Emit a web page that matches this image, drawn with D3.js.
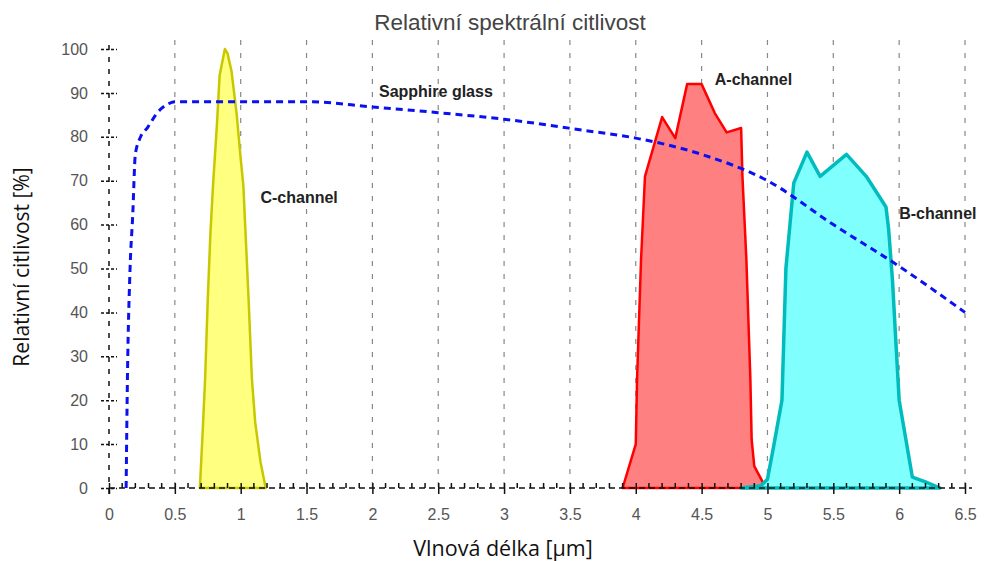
<!DOCTYPE html>
<html>
<head>
<meta charset="utf-8">
<script src="https://cdn.jsdelivr.net/npm/d3@7"></script>
<style>
  body { margin: 0; background: #fff; }
  text { font-family: "Liberation Sans", Arial, sans-serif; }
</style>
</head>
<body>
<div id="chart"></div>
<script>
// wavelength [um], relative sensitivity [%]
const sapphire = [[0.13,0],[0.14,25],[0.16,50],[0.18,62],[0.2,76],[0.24,80],[0.29,82],[0.37,85.6],[0.45,87.5],[0.5,88],[1.5,88],[2,86.8],[2.5,85.5],[3,84],[3.6,81.5],[4,79.7],[4.5,76],[5,70],[5.5,60],[6,50.5],[6.5,40]];
const cChannel = [[0.69,0],[0.71,12],[0.73,25],[0.75,43],[0.77,58],[0.79,69],[0.82,83],[0.84,94],[0.88,100],[0.9,99],[0.93,95],[0.97,85],[1.0,75],[1.02,69],[1.04,56],[1.06,43],[1.085,25],[1.11,15],[1.15,6],[1.19,0]];
const aChannel = [[3.9,0],[3.97,7],[4.0,10],[4.01,25],[4.04,52],[4.07,71],[4.2,84.5],[4.3,79.7],[4.39,92],[4.5,92],[4.6,85.4],[4.69,81],[4.8,82],[4.81,71],[4.84,52],[4.87,25],[4.88,11],[4.9,5],[4.97,1],[4.98,0]];
const bChannel = [[4.8,0],[4.95,0.5],[5.0,2],[5.05,10],[5.11,20],[5.14,50],[5.2,69.5],[5.3,76.5],[5.4,71],[5.6,76],[5.75,71],[5.9,64],[5.92,59],[5.95,47],[5.97,36],[6.0,20],[6.1,2.5],[6.2,1.4],[6.31,0]];
const xTicks = [0,0.5,1,1.5,2,2.5,3,3.5,4,4.5,5,5.5,6,6.5];
const yTicks = [0,10,20,30,40,50,60,70,80,90,100];
const seriesLabels = [["C-channel", 1.15, 65], ["Sapphire glass", 2.05, 89], ["A-channel", 4.6, 91.8], ["B-channel", 6.0, 61.3]];

const W = 986, H = 561;
const margin = {top: 49, right: 21, bottom: 73, left: 109};
const height = H - margin.top - margin.bottom;

const svg = d3.select("#chart").append("svg")
  .attr("width", W).attr("height", H);
const g = svg.append("g")
  .attr("transform", `translate(${margin.left},${margin.top})`);

const x = d3.scaleLinear().domain([0, 6.5]).range([0, 856]);
const y = d3.scaleLinear().domain([0, 100]).range([height, 0]);

// vertical grid
g.selectAll(".grid").data(xTicks.filter(d => d > 0)).enter().append("line")
  .attr("x1", d => x(d)).attr("x2", d => x(d))
  .attr("y1", -9).attr("y2", height + 7)
  .attr("stroke", "#888").attr("stroke-width", 1.2)
  .attr("stroke-dasharray", "5,8");

const area = d3.area().x(d => x(d[0])).y0(y(0)).y1(d => y(d[1]));

function band(data, fill, stroke, sw) {
  g.append("path").datum(data)
    .attr("d", area)
    .attr("fill", fill)
    .attr("stroke", stroke)
    .attr("stroke-width", sw)
    .attr("stroke-linejoin", "round");
}
band(cChannel, "#ffff80", "#c8c800", 2.5);
band(aChannel, "#ff8080", "#ff0000", 2.5);
band(bChannel, "#80ffff", "#00bcbc", 3.5);

// axes (dashed, like the original)
const xAxis = d3.axisBottom(x).tickValues(xTicks).tickSize(6).tickPadding(15)
  .tickFormat(d3.format("~g"));
const gx = g.append("g").attr("transform", `translate(0,${height})`).call(xAxis);
gx.select(".domain").remove();
gx.append("line").attr("x1", 0).attr("x2", 863)
  .attr("stroke", "#111").attr("stroke-width", 1.5).attr("stroke-dasharray", "6,4");
gx.selectAll(".tick line").attr("y1", -5).attr("stroke", "#111").attr("stroke-width", 1.5);
gx.selectAll(".tick text").attr("fill", "#555").style("font-size", "16px");

// minor ticks on x
const minor = d3.range(0, 66).map(i => i / 10).filter(d => Math.abs(d * 2 - Math.round(d * 2)) > 1e-6);
gx.selectAll(".minor").data(minor).enter().append("line")
  .attr("x1", d => x(d)).attr("x2", d => x(d))
  .attr("y1", 0).attr("y2", -5)
  .attr("stroke", "#111").attr("stroke-width", 1.5);

const yAxis = d3.axisLeft(y).tickValues(yTicks).tickSize(8).tickPadding(13);
const gy = g.append("g").call(yAxis);
gy.select(".domain").remove();
gy.append("line").attr("y1", -4).attr("y2", height + 7)
  .attr("stroke", "#111").attr("stroke-width", 1.5).attr("stroke-dasharray", "5,7");
gy.selectAll(".tick line").attr("x1", -8).attr("x2", 8)
  .attr("stroke", "#111").attr("stroke-width", 1.5).attr("stroke-dasharray", "3,2");
gy.selectAll(".tick text").attr("fill", "#555").style("font-size", "16px");

// sapphire glass transmission
const line = d3.line().x(d => x(d[0])).y(d => y(d[1])).curve(d3.curveMonotoneX);
g.append("path").datum(sapphire)
  .attr("d", line)
  .attr("fill", "none")
  .attr("stroke", "#0a10f0")
  .attr("stroke-width", 3)
  .attr("stroke-dasharray", "7,5");

// curve labels
g.selectAll(".lbl").data(seriesLabels).enter().append("text")
  .attr("x", d => x(d[1])).attr("y", d => y(d[2]))
  .attr("fill", "#222").style("font-size", "16px").style("font-weight", "bold")
  .text(d => d[0]);

// titles
svg.append("text").attr("x", 510).attr("y", 30).attr("text-anchor", "middle")
  .attr("fill", "#444").style("font-size", "22.5px")
  .text("Relativní spektrální citlivost");
svg.append("text").attr("x", 503).attr("y", 556).attr("text-anchor", "middle")
  .attr("fill", "#111").style("font-size", "21.5px").style("font-family", "'Open Sans', sans-serif")
  .text("Vlnová délka [µm]");
svg.append("text").attr("transform", "translate(29,267) rotate(-90)")
  .attr("text-anchor", "middle").attr("fill", "#111")
  .style("font-size", "21px").style("font-family", "'Open Sans', sans-serif")
  .text("Relativní citlivost [%]");
</script>
</body>
</html>
